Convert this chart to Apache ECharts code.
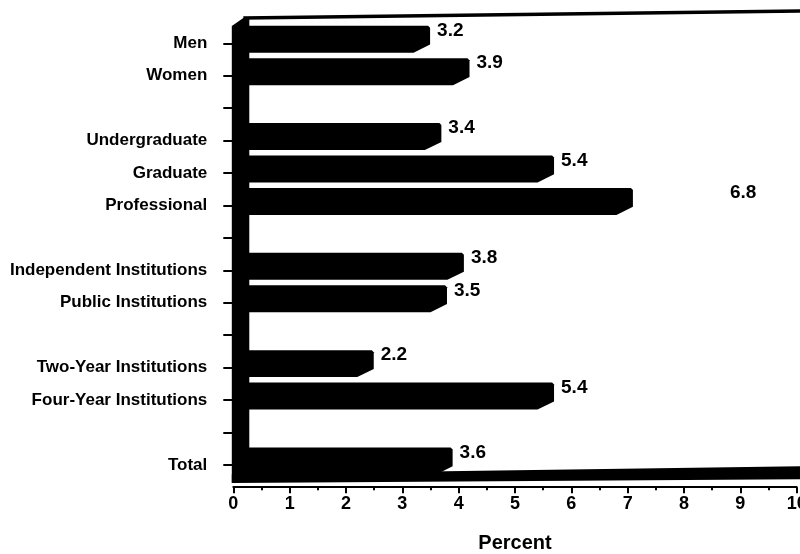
<!DOCTYPE html>
<html><head><meta charset="utf-8">
<script src="https://cdn.jsdelivr.net/npm/echarts@6/dist/echarts.min.js"></script>
<style>html,body{margin:0;padding:0;background:#fff}#c{width:800px;height:554px}</style>
</head><body><div id="c"></div>
<script>
// ---- data ----
const categories = ['Men','Women',' ','Undergraduate','Graduate','Professional','  ',
  'Independent Institutions','Public Institutions','   ','Two-Year Institutions',
  'Four-Year Institutions','    ','Total'];
const values = [3.2, 3.9, null, 3.4, 5.4, 6.8, null, 3.8, 3.5, null, 2.2, 5.4, null, 3.6];
const xTickValues = [0,1,2,3,4,5,6,7,8,9,10];
const axisTitle = 'Percent';

// ---- styling ----
const FONT = "'Liberation Sans',Arial,sans-serif";
const farLabelShift = { 'Professional': 90 };

const barData = values.map((v, i) => v == null ? null : [v, i]).filter(Boolean);

function renderBar(params, api) {
  const v = api.value(0), ci = api.value(1);
  const base = api.coord([0, ci]);
  const end = api.coord([v, ci]);
  const band = api.size([0, 1])[1];
  const h = band * 0.29, dy = band * 0.25, dx = 16.5;
  const yb = base[1] + h, yt = base[1] - h - dy;
  const xr = end[0] + dx;
  const extra = farLabelShift[categories[ci]] || 0;
  return {
    type: 'group',
    children: [
      { type: 'polygon', shape: { points: [[base[0], yt], [xr - 2, yt], [xr, yt + 2], [xr, yb - dy], [end[0], yb], [base[0], yb]] },
        style: { fill: '#000' } },
      { type: 'text', x: xr + 7 + extra, y: yt + 5,
        style: { text: v.toFixed(1), fill: '#000', fontFamily: FONT, fontWeight: 'bold', fontSize: 19,
                 align: 'left', verticalAlign: 'middle' } }
    ]
  };
}

function renderFrame(params, api) {
  const cs = params.coordSys;
  const x0 = cs.x, top = cs.y, bot = cs.y + cs.height, W = api.getWidth();
  return {
    type: 'group',
    children: [
      { type: 'polygon', shape: { points: [[x0 - 1.5, top - 1], [x0 + 10, top - 9], [x0 + 16, top - 9], [x0 + 16, bot], [x0 - 1.5, bot + 1.8]] },
        style: { fill: '#000' } },
      { type: 'polygon', shape: { points: [[x0 - 1.5, bot - 7], [W, bot - 15], [W, bot - 2], [x0 - 1.5, bot + 1.8]] },
        style: { fill: '#000' } },
      { type: 'line', shape: { x1: x0 + 10, y1: top - 9, x2: W, y2: top - 16 },
        style: { stroke: '#000', lineWidth: 3.5 } }
    ]
  };
}

const chart = echarts.init(document.getElementById('c'), null, { renderer: 'canvas' });
chart.setOption({
  animation: false,
  backgroundColor: '#fff',
  grid: { left: 233.3, right: 3.3, top: 27.1, bottom: 72.8, containLabel: false, outerBoundsMode: 'none' },
  xAxis: {
    type: 'value', min: xTickValues[0], max: xTickValues[xTickValues.length - 1], interval: 1,
    offset: 6,
    axisLine: { show: true, lineStyle: { color: '#000', width: 2 } },
    axisTick: { show: true, length: 6, lineStyle: { color: '#000', width: 2 } },
    minorTick: { show: true, splitNumber: 2, length: 3, lineStyle: { color: '#000', width: 2 } },
    splitLine: { show: false },
    axisLabel: { color: '#000', fontFamily: FONT, fontWeight: 'bold', fontSize: 18, margin: 8 },
    name: axisTitle, nameLocation: 'middle', nameGap: 46,
    nameTextStyle: { color: '#000', fontFamily: FONT, fontWeight: 'bold', fontSize: 20 }
  },
  yAxis: {
    type: 'category', data: categories, inverse: true, offset: 5,
    axisLine: { show: true, lineStyle: { color: '#000', width: 2 } },
    axisTick: { show: true, alignWithLabel: true, length: 10, lineStyle: { color: '#000', width: 2 } },
    splitLine: { show: false },
    axisLabel: { color: '#000', fontFamily: FONT, fontWeight: 'bold', fontSize: 17, margin: 21, interval: 0 }
  },
  series: [
    { type: 'custom', renderItem: renderFrame, data: [[0, 0]], encode: { x: 0, y: 1 }, z: 1, silent: true },
    { type: 'custom', renderItem: renderBar, data: barData, encode: { x: 0, y: 1 }, z: 2 }
  ]
});
</script>
</body></html>
